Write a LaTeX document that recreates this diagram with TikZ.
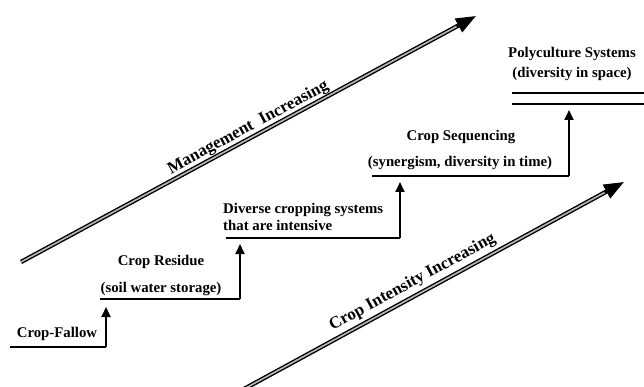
\documentclass[tikz,border=0pt]{standalone}
\usepackage{fontspec}
\setmainfont{Liberation Serif}
\usetikzlibrary{arrows.meta,calc}
\begin{document}
\begin{tikzpicture}[x=1pt,y=-1pt,
  lbl/.style={font=\bfseries\fontsize{14.8}{16}\selectfont, inner sep=0pt},
  diaglbl/.style={font=\bfseries\fontsize{17}{19}\selectfont, sloped, above},
  stair/.style={line width=1.9pt},
  stairarrow/.style={line width=1.9pt, -{Triangle[length=10pt,width=9pt]}},
  dline/.style={draw=black, line width=1.4pt, double=gray!55, double distance=1.6pt},
  bigtip/.style={line width=3pt, -{Triangle[length=20pt,width=15pt]}}
]
\useasboundingbox (0,0) rectangle (644,387);

% Diagonal arrows
\coordinate (mS) at (21,262);
\coordinate (mT) at (476,16);
\coordinate (cS) at (244,389);
\coordinate (cT) at (624,182);

\draw[dline] (mS) -- ($(mT)!12pt!(mS)$);
\draw[bigtip] ($(mT)!22pt!(mS)$) -- (mT);
\path (mS) -- (mT) node[diaglbl, pos=0.51, inner sep=2pt] (mlbl) {Management\ \ Increasing};

\draw[dline] (cS) -- ($(cT)!12pt!(cS)$);
\draw[bigtip] ($(cT)!22pt!(cS)$) -- (cT);
\path (cS) -- (cT) node[diaglbl, pos=0.46, inner sep=5pt] (clbl) {Crop Intensity Increasing};

% Step 1
\node[lbl, anchor=base] (t1) at (57,337) {Crop-Fallow};
\coordinate (u1L) at (10,347);
\coordinate (u1R) at (106,347);
\coordinate (a1) at (106,307);
\draw[stair] (u1L) -- (u1R);
\draw[stairarrow] (u1R) -- (a1);

% Step 2
\node[lbl, anchor=base] (t2a) at (161,265) {Crop Residue};
\node[lbl, anchor=base] (t2b) at (161,292) {(soil water storage)};
\coordinate (u2L) at (100,299);
\coordinate (u2R) at (240,299);
\coordinate (a2) at (240,244);
\draw[stair] (u2L) -- (u2R);
\draw[stairarrow] (u2R) -- (a2);

% Step 3
\node[lbl, anchor=base west] (t3a) at (223,214) {Diverse cropping systems};
\node[lbl, anchor=base west] (t3b) at (223,230) {that are intensive};
\coordinate (u3L) at (226,238);
\coordinate (u3R) at (400,238);
\coordinate (a3) at (400,182);
\draw[stair] (u3L) -- (u3R);
\draw[stairarrow] (u3R) -- (a3);

% Step 4
\node[lbl, anchor=base] (t4a) at (461,141) {Crop Sequencing};
\node[lbl, anchor=base] (t4b) at (460,167) {(synergism, diversity in time)};
\coordinate (u4L) at (372,176);
\coordinate (u4R) at (569,176);
\coordinate (a4) at (569,110);
\draw[stair] (u4L) -- (u4R);
\draw[stairarrow] (u4R) -- (a4);

% Step 5
\node[lbl, anchor=base] (t5a) at (572,58) {Polyculture Systems};
\node[lbl, anchor=base] (t5b) at (572,78) {(diversity in space)};
\coordinate (p1L) at (512,93);
\coordinate (p1R) at (644,93);
\coordinate (p2L) at (512,104);
\coordinate (p2R) at (644,104);
\draw[stair] (p1L) -- (p1R);
\draw[stair] (p2L) -- (p2R);
\end{tikzpicture}
\end{document}
